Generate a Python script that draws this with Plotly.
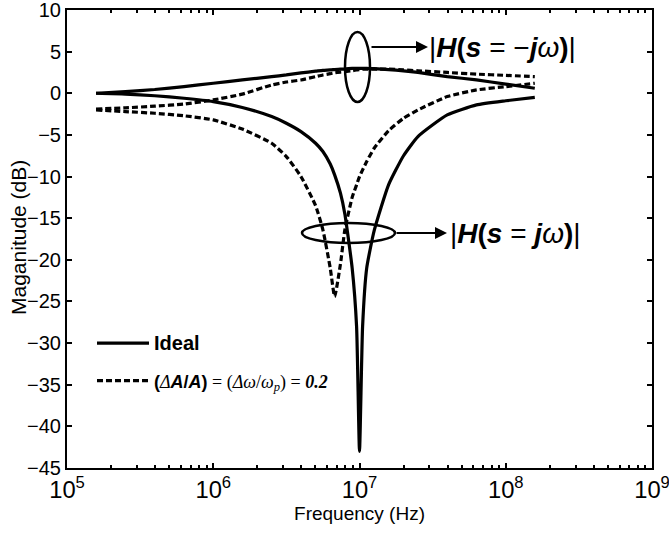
import plotly.graph_objects as go

# ---------------- data ----------------
freq_hz = [1.58e5, 2.51e5, 3.98e5, 6.31e5, 1.0e6, 1.58e6, 2.51e6, 3.16e6, 3.98e6,
           5.01e6, 5.62e6, 6.31e6, 6.76e6, 7.41e6, 7.94e6, 8.91e6, 9.55e6, 1.0e7,
           1.05e7, 1.12e7, 1.26e7, 1.58e7, 2.0e7, 2.51e7, 3.98e7, 6.31e7, 1.0e8,
           1.58e8]

# |H(s = jw)|, ideal (solid, notch at 10 MHz)
ideal_pos = [0.0, -0.1, -0.3, -0.6, -1.0, -1.7, -2.8, -3.6, -4.6, -6.0, -7.0, -8.5,
             -9.8, -12.0, -14.5, -21.0, -28.0, -43.0, -28.0, -21.0, -16.5, -11.0,
             -7.5, -5.2, -2.6, -1.4, -0.9, -0.5]
# |H(s = -jw)|, ideal (solid)
ideal_neg = [0.0, 0.2, 0.45, 0.8, 1.2, 1.6, 2.0, 2.2, 2.45, 2.65, 2.75, 2.8, 2.85,
             2.9, 2.9, 3.0, 3.0, 3.0, 3.0, 3.0, 2.95, 2.85, 2.7, 2.5, 2.0, 1.6, 1.1,
             0.6]
# |H(s = jw)| with dA/A = dw/wp = 0.2 (dashed)
err_pos = [-2.0, -2.2, -2.4, -2.7, -3.2, -4.3, -6.0, -7.6, -10.0, -13.5, -16.4,
           -21.0, -24.4, -20.5, -16.4, -12.5, -11.0, -10.0, -9.2, -8.2, -6.6, -4.5,
           -3.0, -2.0, -0.4, 0.4, 0.8, 1.2]
# |H(s = -jw)| with dA/A = dw/wp = 0.2 (dashed)
err_neg = [-1.9, -1.75, -1.55, -1.3, -0.8, -0.1, 1.0, 1.35, 1.6, 2.0, 2.2, 2.35,
           2.45, 2.55, 2.6, 2.7, 2.8, 2.85, 2.9, 2.9, 2.9, 2.9, 2.8, 2.7, 2.5, 2.3,
           2.15, 2.0]

y_ticks = [10, 5, 0, -5, -10, -15, -20, -25, -30, -35, -40, -45]

# ---------------- figure ----------------
W, H = 669, 534
ML, MR, MT, MB = 67, 17, 10, 66
PW, PH = W - ML - MR, H - MT - MB


def px(x):
    return (x - ML) / PW


def py(y):
    return (H - MB - y) / PH


FONT = "Arial, Liberation Sans, sans-serif"
SERIF = "Liberation Serif, Times New Roman, serif"
fig = go.Figure()
dash_style = "6px,3px"
LW = 3.2
legend_txt = (f'<span style="font-family:{FONT}"><b>(</b></span>'
              f'<span style="font-family:{SERIF}"><i>Δ</i></span>'
              f'<span style="font-family:{FONT}"><b><i>A</i>/<i>A</i>)</b></span>'
              f'<span style="font-family:{SERIF}"> = (<i>Δω</i>/<i>ω<sub>p</sub></i>) = '
              '<b><i>0.2</i></b></span>')

fig.add_trace(go.Scatter(x=freq_hz, y=ideal_pos, mode="lines",
                         name='<span style="font-size:20px"><b>Ideal</b></span>',
                         line=dict(color="black", width=LW, shape="spline", smoothing=0.5),
                         legendgroup="a", showlegend=True))
fig.add_trace(go.Scatter(x=freq_hz, y=ideal_neg, mode="lines", name="Ideal",
                         line=dict(color="black", width=LW, shape="spline", smoothing=0.5),
                         legendgroup="a", showlegend=False))
fig.add_trace(go.Scatter(x=freq_hz, y=err_pos, mode="lines", name=legend_txt,
                         line=dict(color="black", width=LW, dash=dash_style,
                                   shape="spline", smoothing=0.5),
                         legendgroup="b", showlegend=True))
fig.add_trace(go.Scatter(x=freq_hz, y=err_neg, mode="lines", name="err",
                         line=dict(color="black", width=LW, dash=dash_style,
                                   shape="spline", smoothing=0.5),
                         legendgroup="b", showlegend=False))

fig.update_xaxes(type="log", range=[5, 9], dtick=1, exponentformat="power",
                 showexponent="all", ticks="inside", ticklen=5, tickwidth=1.5,
                 tickcolor="black", showline=True, linewidth=2, linecolor="black",
                 mirror="ticks", showgrid=False, zeroline=False,
                 tickfont=dict(family=FONT, size=19, color="black"),
                 automargin=False, ticklabeloverflow="allow",
                 minor=dict(ticks="inside", ticklen=3, tickwidth=1.5, tickcolor="black",
                            showgrid=False),
                 title=dict(text="Frequency (Hz)", standoff=2,
                            font=dict(family=FONT, size=19, color="black")))
fig.update_yaxes(range=[-45, 10], tickvals=y_ticks, ticks="inside", ticklen=5,
                 tickwidth=1.5, tickcolor="black", showline=True, linewidth=2,
                 linecolor="black", mirror="ticks", showgrid=False, zeroline=False,
                 tickfont=dict(family=FONT, size=20, color="black"),
                 automargin=False, ticklabeloverflow="allow")

# y-axis title placed as rotated text
fig.add_annotation(xref="paper", yref="paper", x=px(18), y=py(238), xanchor="center",
                   yanchor="middle", textangle=-90, showarrow=False,
                   text="Maganitude (dB)",
                   font=dict(family=FONT, size=21, color="black"))

# annotation ellipses + arrows
shapes = [
    dict(type="circle", xref="paper", yref="paper", x0=px(345), x1=px(370),
         y0=py(102), y1=py(32), line=dict(color="black", width=2.5)),
    dict(type="circle", xref="paper", yref="paper", x0=px(302), x1=px(395),
         y0=py(243), y1=py(223), line=dict(color="black", width=2.5)),
]
fig.update_layout(shapes=shapes)

lab_font = dict(family=FONT, size=28, color="black")
fig.add_annotation(xref="paper", yref="paper", x=px(428), y=py(47), ax=-(428 - 370), ay=0,
                   axref="pixel", ayref="pixel", text="", showarrow=True,
                   arrowhead=2, arrowsize=1.2, arrowwidth=2, arrowcolor="black")
fig.add_annotation(xref="paper", yref="paper", x=px(447), y=py(233), ax=-(447 - 395), ay=0,
                   axref="pixel", ayref="pixel", text="", showarrow=True,
                   arrowhead=2, arrowsize=1.2, arrowwidth=2, arrowcolor="black")
fig.add_annotation(xref="paper", yref="paper", x=px(427), y=py(47), xanchor="left",
                   yanchor="middle", showarrow=False, font=lab_font,
                   text="|<b><i>H</i>(<i>s</i></b> = −<b><i>j</i></b><i>ω</i><b>)</b>|")
fig.add_annotation(xref="paper", yref="paper", x=px(448), y=py(233), xanchor="left",
                   yanchor="middle", showarrow=False, font=lab_font,
                   text="|<b><i>H</i>(<i>s</i></b> = <b><i>j</i></b><i>ω</i><b>)</b>|")

fig.update_layout(
    width=W, height=H,
    margin=dict(l=ML, r=MR, t=MT, b=MB),
    paper_bgcolor="white", plot_bgcolor="white",
    showlegend=True,
    legend=dict(x=px(92), y=py(325), xanchor="left", yanchor="top",
                bgcolor="rgba(0,0,0,0)", borderwidth=0, tracegroupgap=11,
                itemwidth=52,
                font=dict(family=FONT, size=18, color="black")),
)

fig.write_html("out.html")
